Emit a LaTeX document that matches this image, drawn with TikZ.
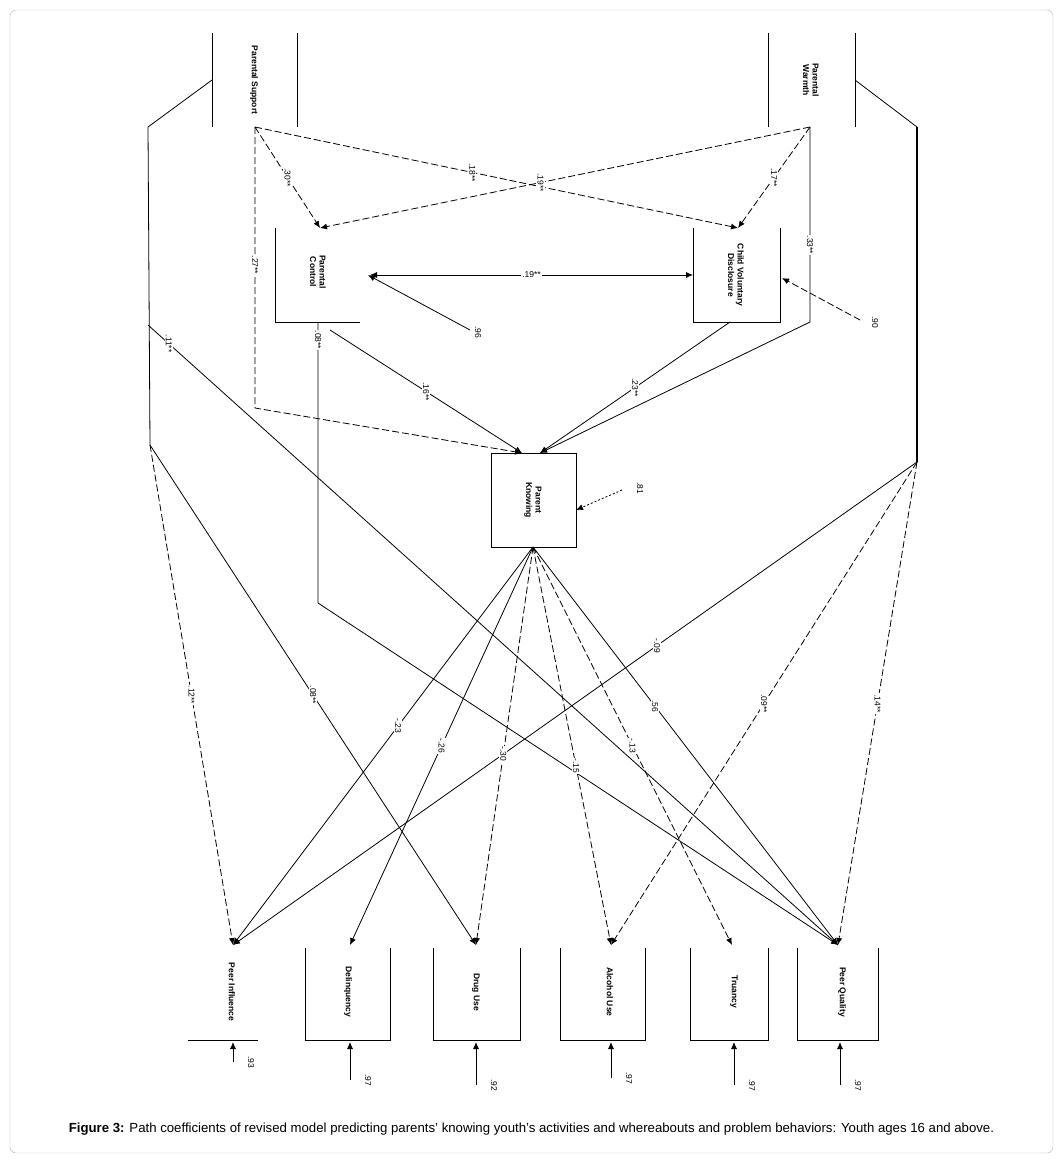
\documentclass[tikz,border=0pt]{standalone}
\usepackage{fontspec}
\setmainfont{Liberation Sans}
\usetikzlibrary{arrows.meta}
\begin{document}
\begin{tikzpicture}[x=1pt,y=-1pt,
  ln/.style={line width=0.8pt},
  dsh/.style={ln,dash pattern=on 7pt off 3pt},
  arr/.style={-{Latex[length=7pt,width=6pt]}},
  lbl/.style={font=\fontsize{8.5}{9.5}\selectfont\bfseries,rotate=-90,inner sep=0pt},
  coef/.style={font=\fontsize{8.5}{9}\selectfont,rotate=-90,fill=white,inner sep=1pt}]
\useasboundingbox (0,0) rectangle (1063,1163);
\draw[gray!60,rounded corners=6pt] (10,10) rectangle (1053,1153);
% top boxes
\draw[ln] (212,33)--(212,127) (297,33)--(297,127);
\node[lbl] (ps) at (254,80) {Parental Support};
\draw[ln] (768,33)--(768,127) (855,33)--(855,127);
\node[lbl,align=center] (pw) at (811,80) {Parental\\Warmth};
% middle boxes
\draw[ln] (275,228)--(275,322)--(360,322);
\node[lbl,align=center] (pc) at (318,272) {Parental\\Control};
\draw[ln] (693,228)--(693,322)--(780,322)--(780,228);
\node[lbl,align=center] (cvd) at (736,275) {Child Voluntary\\Disclosure};
\draw[ln] (491,453) rectangle (576,547);
\node[lbl,align=center] (pk) at (533,500) {Parent\\Knowing};
% bottom boxes
\draw[ln] (188,1040)--(258,1040);
\node[lbl] (pi) at (232,992) {Peer Influence};
\draw[ln] (305,948)--(305,1040)--(390,1040)--(390,948);
\node[lbl] (dl) at (348,992) {Delinquency};
\draw[ln] (433,948)--(433,1040)--(520,1040)--(520,948);
\node[lbl] (du) at (476,992) {Drug Use};
\draw[ln] (560,948)--(560,1040)--(645,1040)--(645,948);
\node[lbl] (au) at (610,992) {Alcohol Use};
\draw[ln] (690,948)--(690,1040)--(768,1040)--(768,948);
\node[lbl] (tr) at (734,992) {Truancy};
\draw[ln] (797,948)--(797,1040)--(878,1040)--(878,948);
\node[lbl] (pq) at (842,992) {Peer Quality};
% anchor coordinates
\coordinate (psb) at (255,127); \coordinate (pwb) at (810,127);
\coordinate (pct) at (320,228); \coordinate (cvdt) at (738,228);
\coordinate (pkt1) at (522,453); \coordinate (pkt2) at (540,453);
\coordinate (pkb) at (533,547);
\coordinate (L1) at (148,127); \coordinate (L2) at (148,325); \coordinate (L3) at (150,445);
\coordinate (R1) at (917,127); \coordinate (R2) at (917,462);
\coordinate (piT) at (233,945); \coordinate (dlT) at (350,945); \coordinate (duT) at (476,945);
\coordinate (auT) at (611,945); \coordinate (trT) at (732,945); \coordinate (pqT) at (838,945);
% brackets
\draw[ln] (212,80)--(L1)--(L3);
\draw[ln] (855,80)--(R1);
\draw[line width=2pt] (R1)--(R2);
% top arrows
\draw[dsh,arr] (psb)--(pct) node[coef,midway]{.30**};
\draw[dsh,arr] (psb)--(cvdt) node[coef,pos=0.45]{.18**};
\draw[dsh,arr] (pwb)--(pct) node[coef,pos=0.55]{.19**};
\draw[dsh,arr] (pwb)--(cvdt) node[coef,midway]{.17**};
\draw[dsh,arr] (psb)--(255,408)--(pkt1);
\node[coef] at (255,265) {.27**};
\draw[ln,arr] (pwb)--(810,322)--(pkt2);
\node[coef] at (810,245) {.33**};
\draw[ln,{Latex[length=7pt,width=6pt]}-{Latex[length=7pt,width=6pt]}] (370,275)--(693,275) node[coef,midway,rotate=90]{.19**};
\coordinate (ePC) at (470,330); \node[coef] at (478,332) {.96};
\draw[ln,arr] (ePC)--(368,275);
\coordinate (eCV) at (860,320); \node[coef] at (875,322) {.90};
\draw[dsh,arr] (eCV)--(782,278);
\draw[ln,arr] (330,330)--(pkt1) node[coef,midway]{.16**};
\draw[ln,arr] (730,322)--(pkt2) node[coef,midway]{.23**};
\coordinate (ePK) at (622,490); \node[coef] at (640,488) {.81};
\draw[dash pattern=on 2pt off 2pt,ln,arr] (ePK)--(576,510);
% long paths
\draw[ln] (L2)--(pqT) node[coef,pos=0.03]{.11**};
\draw[dsh,arr] (L3)--(piT) node[coef,midway]{.12**};
\draw[ln,arr] (L3)--(duT) node[coef,midway]{.08**};
\draw[ln,arr] (318,322)--(318,603)--(pqT);
\node[coef] at (318,340) {.08**};
\draw[ln,arr] (R2)--(piT) node[coef,pos=0.38]{-.09};
\draw[dsh,arr] (R2)--(auT) node[coef,midway]{.09**};
\draw[dsh,arr] (R2)--(pqT) node[coef,midway]{.14**};
% from parent knowing
\draw[ln,arr] (pkb)--(piT) node[coef,pos=0.45]{-.23};
\draw[ln,arr] (pkb)--(dlT) node[coef,pos=0.5]{-.26};
\draw[dsh,arr] (pkb)--(duT) node[coef,pos=0.52]{-.30};
\draw[dsh,arr] (pkb)--(auT) node[coef,pos=0.55]{-.15};
\draw[dsh,arr] (pkb)--(trT) node[coef,pos=0.5]{-.13};
\draw[ln,arr] (pkb)--(pqT) node[coef,pos=0.4]{.56};
% bottom errors
\foreach \x/\t/\yb in {233/.93/1062,350/.97/1080,476/.92/1085,611/.97/1078,734/.97/1085,840/.97/1085}{
  \draw[ln,arr] (\x,\yb)--(\x,1042);
  \node[coef] at (\x+18,\yb) {\t};
}
\node[anchor=base,font=\fontsize{13.2}{15}\selectfont] (cap) at (531.5,1132) {\textbf{Figure 3:} Path coefficients of revised model predicting parents' knowing youth's activities and whereabouts and problem behaviors: Youth ages 16 and above.};
\end{tikzpicture}
\end{document}
